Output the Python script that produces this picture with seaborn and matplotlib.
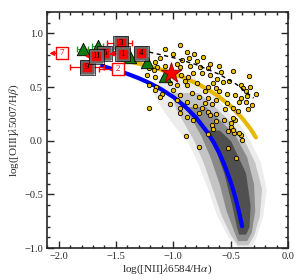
import numpy as np
import pandas as pd
import matplotlib
matplotlib.use("Agg")
import matplotlib.pyplot as plt
import seaborn as sns

# yellow sample (log NII/Ha, log OIII/Hb)
yel_x = [-1.07, -0.94, -0.88, -0.82, -1.00, -1.12, -1.16, -0.92, -0.86, -0.79,
         -0.74, -0.68, -1.14, -1.07, -0.94, -0.85, -0.77, -0.70, -1.21, -0.97,
         -1.23, -1.16, -1.09, -0.93, -0.87, -0.83, -0.75, -0.68, -0.62, -0.48,
         -0.34, -1.17, -1.06, -0.57, -0.41, -0.39, -0.97, -0.88, -0.79, -0.70,
         -0.63, -1.21, -1.15, -1.03, -0.65, -0.37, -0.53, -0.28, -0.46, -0.41,
         -1.16, -1.00, -0.94, -0.84, -0.78, -0.70, -0.63, -1.10, -1.12, -0.37,
         -0.97, -0.88, -0.53, -0.43, -0.72, -0.75, -0.35, -1.03, -0.81, -0.66,
         -0.31, -1.21, -0.94, -0.48, -0.70, -0.68, -0.78, -0.88, -0.83, -0.63,
         -0.56, -0.63, -0.50, -0.46, -0.66, -0.65, -0.52, -0.47, -0.41, -0.40,
         -0.70, -0.89, -0.50, -0.78, -0.52, -0.45, -0.94, -0.48, -0.48, -0.43,
         -0.60, -0.55, -0.44, -0.58, -0.51, -0.36, -0.90, -0.72, -0.60, -0.33]
yel_y = [0.86, 0.89, 0.83, 0.81, 0.81, 0.77, 0.73, 0.75, 0.77, 0.74,
         0.78, 0.72, 0.69, 0.70, 0.69, 0.70, 0.69, 0.68, 0.68, 0.72,
         0.61, 0.59, 0.58, 0.61, 0.59, 0.63, 0.63, 0.61, 0.58, 0.65,
         0.60, 0.66, 0.61, 0.55, 0.52, 0.49, 0.52, 0.52, 0.54, 0.50,
         0.49, 0.52, 0.50, 0.54, 0.54, 0.46, 0.44, 0.44, 0.43, 0.40,
         0.47, 0.47, 0.43, 0.45, 0.41, 0.40, 0.38, 0.44, 0.41, 0.36,
         0.38, 0.36, 0.35, 0.36, 0.35, 0.31, 0.30, 0.34, 0.32, 0.34,
         0.33, 0.31, 0.31, 0.31, 0.27, 0.24, 0.26, 0.22, 0.19, 0.25,
         0.19, 0.18, 0.17, 0.19, 0.15, 0.11, 0.09, 0.07, 0.05, 0.01,
         0.06, 0.04, 0.13, -0.06, -0.07, -0.16, 0.26, 0.21, 0.10, 0.07,
         0.46, 0.30, 0.28, 0.64, 0.56, 0.42, 0.56, 0.46, 0.70, 0.50]

# SDSS cloud outlines (y, left x, right x), faint -> dark
halo_y = [0.62, 0.45, 0.30, 0.15, 0.00, -0.20, -0.45, -0.70, -0.90, -1.00]
halo_l = [-1.12, -1.18, -1.10, -1.00, -0.88, -0.79, -0.70, -0.62, -0.52, -0.43]
halo_r = [-0.85, -0.66, -0.55, -0.42, -0.33, -0.24, -0.19, -0.22, -0.28, -0.33]
cloud_y = [0.45, 0.30, 0.15, 0.00, -0.20, -0.45, -0.70, -0.88, -0.97]
cloud_l = [-1.02, -0.98, -0.90, -0.82, -0.74, -0.66, -0.58, -0.50, -0.44]
cloud_r = [-0.78, -0.62, -0.48, -0.38, -0.29, -0.23, -0.25, -0.30, -0.35]
mid_y = [0.32, 0.20, 0.05, -0.15, -0.40, -0.65, -0.85, -0.93]
mid_l = [-0.90, -0.84, -0.76, -0.68, -0.60, -0.54, -0.47, -0.44]
mid_r = [-0.72, -0.60, -0.46, -0.36, -0.30, -0.29, -0.32, -0.36]
core_y = [0.10, 0.00, -0.30, -0.60, -0.80, -0.87]
core_l = [-0.72, -0.66, -0.56, -0.49, -0.45, -0.43]
core_r = [-0.60, -0.50, -0.37, -0.33, -0.34, -0.37]

# curves
blue_x = [-1.62, -1.5, -1.4, -1.3, -1.2, -1.1, -1.0, -0.9, -0.8, -0.7, -0.65,
          -0.6, -0.55, -0.5, -0.47, -0.44, -0.42, -0.40]
blue_y = [0.697, 0.660, 0.624, 0.583, 0.535, 0.477, 0.408, 0.322, 0.215, 0.075,
          -0.011, -0.113, -0.235, -0.382, -0.486, -0.606, -0.696, -0.796]
gold_x = [-1.45, -1.3, -1.15, -1.0, -0.9, -0.8, -0.7, -0.6, -0.5, -0.4, -0.33, -0.28]
gold_y = [0.754, 0.719, 0.677, 0.626, 0.585, 0.537, 0.480, 0.410, 0.323, 0.212, 0.115, 0.032]
dash_x = [-1.21, -1.0, -0.8, -0.6, -0.45, -0.3]
dash_y = [0.827, 0.775, 0.710, 0.620, 0.527, 0.398]

# green triangles
tri_x = [-1.79, -1.66, -1.38, -1.23, -1.07]
tri_y = [0.86, 0.88, 0.78, 0.73, 0.60]
tri_xerr = [0.05, 0.05, 0.0, 0.0, 0.0]

# red squares
sq_id = ['7', '9', '2', '5', '11', '3', '1', '4']
sq_x = [-1.97, -1.75, -1.48, -1.60, -1.67, -1.46, -1.44, -1.28]
sq_y = [0.815, 0.685, 0.667, 0.815, 0.787, 0.907, 0.81, 0.815]
sq_open = [True, False, True, False, False, False, False, False]
sq_xlo = [0.0, 0.15, 0.17, 0.0, 0.0, 0.12, 0.0, 0.05]
sq_xhi = [0.0, 0.15, 0.0, 0.0, 0.0, 0.10, 0.0, 0.0]
# upper limits (arrow tip x)
arr_id = ['7', '1', '11']
arr_to = [-2.08, -1.56, -1.77]

star_x, star_y = [-1.02], [0.63]

sns.set_style("ticks")
plt.rcParams['font.family'] = ['Liberation Serif', 'DejaVu Serif']
plt.rcParams['mathtext.fontset'] = 'stix'

fig = plt.figure(figsize=(3.0, 2.8), dpi=100)
ax = fig.add_axes([0.157, 0.114, 0.803, 0.843])

ax.fill_betweenx(halo_y, halo_l, halo_r, color='#ececec', lw=0, zorder=1)
ax.fill_betweenx(cloud_y, cloud_l, cloud_r, color='#c4c4c4', lw=0, zorder=1)
ax.fill_betweenx(mid_y, mid_l, mid_r, color='#8a8a8a', lw=0, zorder=1)
ax.fill_betweenx(core_y, core_l, core_r, color='#505050', lw=0, zorder=1)

sns.lineplot(x=blue_x, y=blue_y, color='#0000ff', lw=3, sort=False, ax=ax, zorder=2)
sns.lineplot(x=gold_x, y=gold_y, color='#e8b800', lw=3, sort=False, ax=ax, zorder=2)

yel = pd.DataFrame({'n2': yel_x, 'o3': yel_y})
sns.scatterplot(data=yel, x='n2', y='o3', color='#f2c200', edgecolor='black',
                linewidth=0.6, s=10, ax=ax, zorder=3)
ax.plot(dash_x, dash_y, color='black', lw=1, ls=(0, (3, 2.5)), zorder=3)

ax.errorbar(tri_x, tri_y, xerr=tri_xerr, fmt='none', ecolor='#2a9a2a', elinewidth=0.8,
            capsize=2, zorder=4)
sns.scatterplot(x=tri_x, y=tri_y, marker='^', color='#137a13', edgecolor='black',
                linewidth=0.6, s=80, ax=ax, zorder=4)

sns.scatterplot(x=star_x, y=star_y, marker='*', color='red', edgecolor='#8b0000',
                linewidth=0.6, s=240, ax=ax, zorder=5)

for i, lab in enumerate(sq_id):
    z = 6 + i * 0.1
    if sq_xlo[i] or sq_xhi[i]:
        ax.errorbar([sq_x[i]], [sq_y[i]], xerr=[[sq_xlo[i]], [sq_xhi[i]]], fmt='none',
                    ecolor='red', elinewidth=0.9, capsize=2.5, zorder=z)
    if lab in arr_id:
        tip = arr_to[arr_id.index(lab)]
        ax.annotate('', xy=(tip, sq_y[i]), xytext=(sq_x[i], sq_y[i]),
                    arrowprops=dict(arrowstyle='-|>', color='red', lw=0.9,
                                    mutation_scale=7, shrinkA=0, shrinkB=0),
                    zorder=z)
    if sq_open[i]:
        ax.scatter(sq_x[i], sq_y[i], marker='s', s=85, facecolor='white',
                   edgecolor='red', linewidth=1.0, zorder=z + 0.05)
        tc = 'red'
    else:
        ax.scatter(sq_x[i], sq_y[i], marker='s', s=78, facecolor='red',
                   edgecolor='#6a6a6a', linewidth=1.8, zorder=z + 0.05)
        ax.scatter(sq_x[i], sq_y[i], marker='s', s=115, facecolor='none',
                   edgecolor='black', linewidth=0.5, zorder=z + 0.05)
        tc = 'black'
    ax.text(sq_x[i], sq_y[i], lab, ha='center', va='center', fontsize=6.5,
            color=tc, zorder=z + 0.06)

ax.set_xlim(-2.1, 0.0)
ax.set_ylim(-1.0, 1.2)
ax.set_xticks([-2.0, -1.5, -1.0, -0.5, 0.0])
ax.set_yticks([-1.0, -0.5, 0.0, 0.5, 1.0])
ax.set_xticks(np.arange(-2.1, 0.01, 0.1), minor=True)
ax.set_yticks(np.arange(-1.0, 1.21, 0.1), minor=True)
ax.tick_params(which='both', direction='in', top=True, right=True, labelsize=7.5,
               width=1.0, pad=3)
ax.tick_params(which='major', length=5)
ax.tick_params(which='minor', length=2.5)
for sp in ax.spines.values():
    sp.set_linewidth(1.2)
ax.set_xlabel(r'log([NII]$\lambda$6584/H$\alpha$)', fontsize=8, labelpad=1)
ax.set_ylabel(r'log([OIII]$\lambda$5007/H$\beta$)', fontsize=8, labelpad=2)

fig.savefig('out.png', dpi=100)
